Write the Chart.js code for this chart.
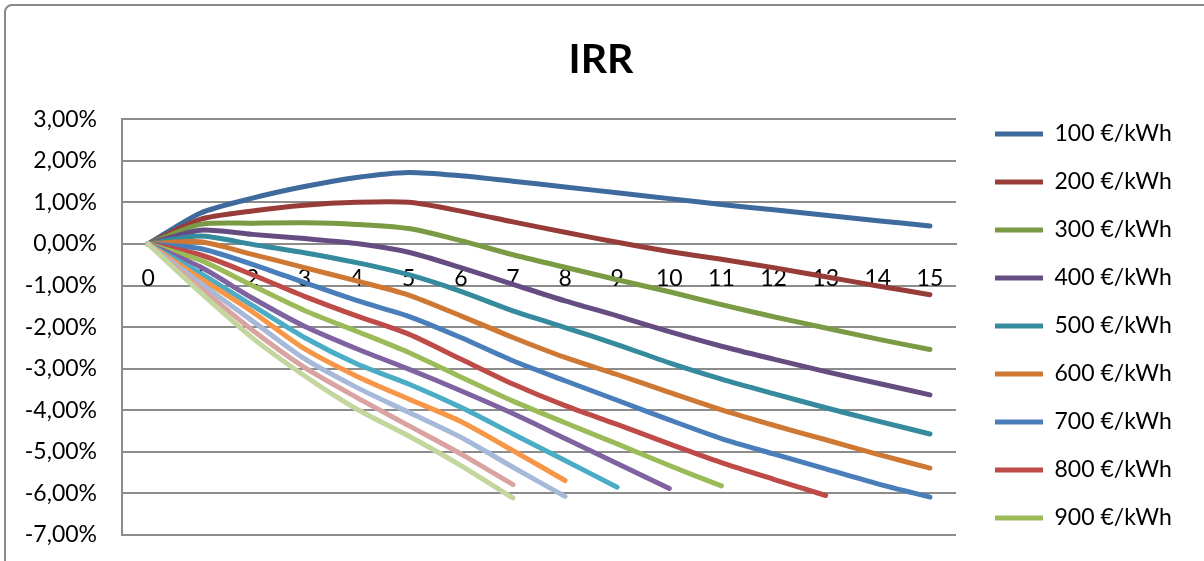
<!DOCTYPE html>
<html lang="en">
<head>
    <meta charset="UTF-8">
    <title>IRR</title>
    <script src="https://cdn.jsdelivr.net/npm/chart.js"></script>
    <style>
        html, body {
            margin: 0;
            padding: 0;
            background: #fff;
            overflow: hidden;
        }
        /* grey chart frame, cut by the window on the right and bottom */
        #frame {
            position: absolute;
            left: 4px;
            top: 4px;
            width: 1300px;
            height: 700px;
            border: 2px solid #888;
            border-radius: 8px;
        }
        #wrap {
            position: absolute;
            left: 0;
            top: 0;
            width: 1204px;
            height: 561px;
        }
    </style>
</head>
<body>
    <div id="frame"></div>
    <div id="wrap"><canvas id="irrChart" width="1204" height="561"></canvas></div>

    <script>
        // Years on the x axis
        const years = ['0', '1', '2', '3', '4', '5', '6', '7', '8', '9', '10', '11', '12', '13', '14', '15'];

        const seriesNames = ['100 €/kWh', '200 €/kWh', '300 €/kWh', '400 €/kWh', '500 €/kWh',
            '600 €/kWh', '700 €/kWh', '800 €/kWh', '900 €/kWh', '1000 €/kWh',
            '1100 €/kWh', '1200 €/kWh', '1300 €/kWh', '1400 €/kWh', '1500 €/kWh'];

        // IRR in percent
        const irr100 = [0, 0.74, 1.10, 1.38, 1.60, 1.72, 1.64, 1.51, 1.37, 1.23, 1.09, 0.95, 0.82, 0.69, 0.56, 0.43];
        const irr200 = [0, 0.59, 0.79, 0.93, 1.00, 1.00, 0.79, 0.53, 0.28, 0.04, -0.18, -0.37, -0.57, -0.79, -1.01, -1.22];
        const irr300 = [0, 0.47, 0.50, 0.51, 0.47, 0.37, 0.08, -0.26, -0.56, -0.86, -1.15, -1.46, -1.75, -2.02, -2.29, -2.54];
        const irr400 = [0, 0.33, 0.23, 0.13, 0.01, -0.20, -0.57, -0.97, -1.37, -1.73, -2.11, -2.46, -2.77, -3.07, -3.35, -3.63];
        const irr500 = [0, 0.19, -0.01, -0.21, -0.45, -0.74, -1.14, -1.61, -2.01, -2.42, -2.86, -3.25, -3.60, -3.94, -4.26, -4.57];
        const irr600 = [0, 0.05, -0.25, -0.57, -0.89, -1.23, -1.73, -2.25, -2.73, -3.14, -3.57, -3.99, -4.36, -4.71, -5.06, -5.39];
        const irr700 = [0, -0.11, -0.49, -0.93, -1.36, -1.74, -2.25, -2.81, -3.29, -3.76, -4.23, -4.68, -5.05, -5.41, -5.77, -6.09];
        const irr800 = [0, -0.26, -0.74, -1.26, -1.73, -2.17, -2.77, -3.37, -3.89, -4.34, -4.81, -5.26, -5.66, -6.05];
        const irr900 = [0, -0.39, -1.00, -1.60, -2.10, -2.61, -3.20, -3.78, -4.30, -4.81, -5.33, -5.82];
        const irr1000 = [0, -0.55, -1.30, -1.98, -2.52, -3.01, -3.53, -4.08, -4.68, -5.28, -5.88];
        const irr1100 = [0, -0.70, -1.48, -2.25, -2.88, -3.37, -3.93, -4.57, -5.21, -5.85];
        const irr1200 = [0, -0.82, -1.63, -2.52, -3.18, -3.73, -4.27, -4.97, -5.69];
        const irr1300 = [0, -0.94, -1.85, -2.76, -3.45, -4.05, -4.65, -5.37, -6.07];
        const irr1400 = [0, -1.05, -2.07, -2.97, -3.69, -4.37, -5.05, -5.79];
        const irr1500 = [0, -1.16, -2.26, -3.17, -3.97, -4.62, -5.33, -6.11];

        const seriesValues = [irr100, irr200, irr300, irr400, irr500, irr600, irr700, irr800,
            irr900, irr1000, irr1100, irr1200, irr1300, irr1400, irr1500];

        const seriesColors = ['#3F6A9E', '#983C39', '#7A9A43', '#654D82', '#358B9D', '#CF7833',
            '#4A7EBB', '#BE4B48', '#9BBB59', '#7F63A1', '#4BACC6', '#F79646',
            '#A6B9D8', '#D9A3A2', '#C2D69E'];

        const FONT = 'Lato';
        const TEXT_SIZE = 23;
        const GRID = '#8c8c8c';
        const LEGEND_ITEMS = 9; // the rest of the legend falls below the window

        // Size the legend so the plot ends at x=956 and legend lines start at x=995
        const measure = document.createElement('canvas').getContext('2d');
        measure.font = TEXT_SIZE + 'px ' + FONT;
        const maxText = Math.max(...seriesNames.slice(0, LEGEND_ITEMS).map(n => measure.measureText(n).width));
        const legendWidth = 25 + 48 + TEXT_SIZE / 2 + maxText + 10;
        const padRight = 234 - legendWidth;
        const padLeft = 20; // y labels must stay inside the axis box or they get clipped

        const datasets = seriesValues.map((vals, i) => ({
            label: seriesNames[i],
            data: vals,
            borderColor: seriesColors[i],
            backgroundColor: seriesColors[i],
            borderWidth: 5,
            borderCapStyle: 'round',
            borderJoinStyle: 'round',
            pointRadius: 0,
            pointHoverRadius: 0,
            tension: 0.25,
            fill: false,
            order: seriesValues.length - i // later series on top, like Excel
        }));

        new Chart(document.getElementById('irrChart'), {
            type: 'line',
            data: { labels: years, datasets: datasets },
            options: {
                responsive: false,
                animation: false,
                devicePixelRatio: 1,
                layout: { padding: { left: padLeft, right: padRight, top: 0, bottom: 0 } },
                scales: {
                    x: {
                        position: { y: 0 },
                        offset: true,
                        grid: { display: false, drawTicks: false },
                        border: { display: true, color: GRID, width: 2 },
                        ticks: {
                            color: '#000',
                            font: { family: FONT, size: TEXT_SIZE },
                            padding: 21,
                            maxRotation: 0,
                            autoSkip: false
                        },
                        afterFit: s => { s.paddingLeft = 0; s.paddingRight = 0; }
                    },
                    y: {
                        min: -7,
                        max: 3,
                        ticks: {
                            stepSize: 1,
                            color: '#000',
                            font: { family: FONT, size: TEXT_SIZE },
                            padding: 25,
                            callback: v => v.toFixed(2).replace('.', ',') + '%'
                        },
                        grid: { color: GRID, lineWidth: 2, drawTicks: false },
                        border: { color: GRID, width: 2 },
                        afterFit: s => { s.width = 122 - padLeft; s.paddingBottom = 26; }
                    },
                    // empty spacer between plot and legend
                    gap: {
                        type: 'linear',
                        position: 'right',
                        grid: { display: false, drawTicks: false },
                        border: { display: false },
                        ticks: { display: false },
                        afterFit: s => { s.width = 14; }
                    }
                },
                plugins: {
                    title: {
                        display: true,
                        text: 'IRR',
                        color: '#000',
                        font: { family: FONT, size: 41, weight: 'bold' },
                        padding: { top: 35, bottom: 35 }
                    },
                    legend: {
                        position: 'right',
                        align: 'start',
                        maxWidth: 400,
                        title: { display: true, text: '', font: { size: 10 }, padding: { top: 85.5, bottom: 0 } },
                        labels: {
                            usePointStyle: true,
                            pointStyle: 'line',
                            pointStyleWidth: 48,
                            padding: 25,
                            color: '#000',
                            font: { family: FONT, size: TEXT_SIZE },
                            filter: item => item.datasetIndex < LEGEND_ITEMS,
                            sort: (a, b) => a.datasetIndex - b.datasetIndex
                        }
                    },
                    tooltip: { enabled: false }
                }
            }
        });
    </script>
</body>
</html>
